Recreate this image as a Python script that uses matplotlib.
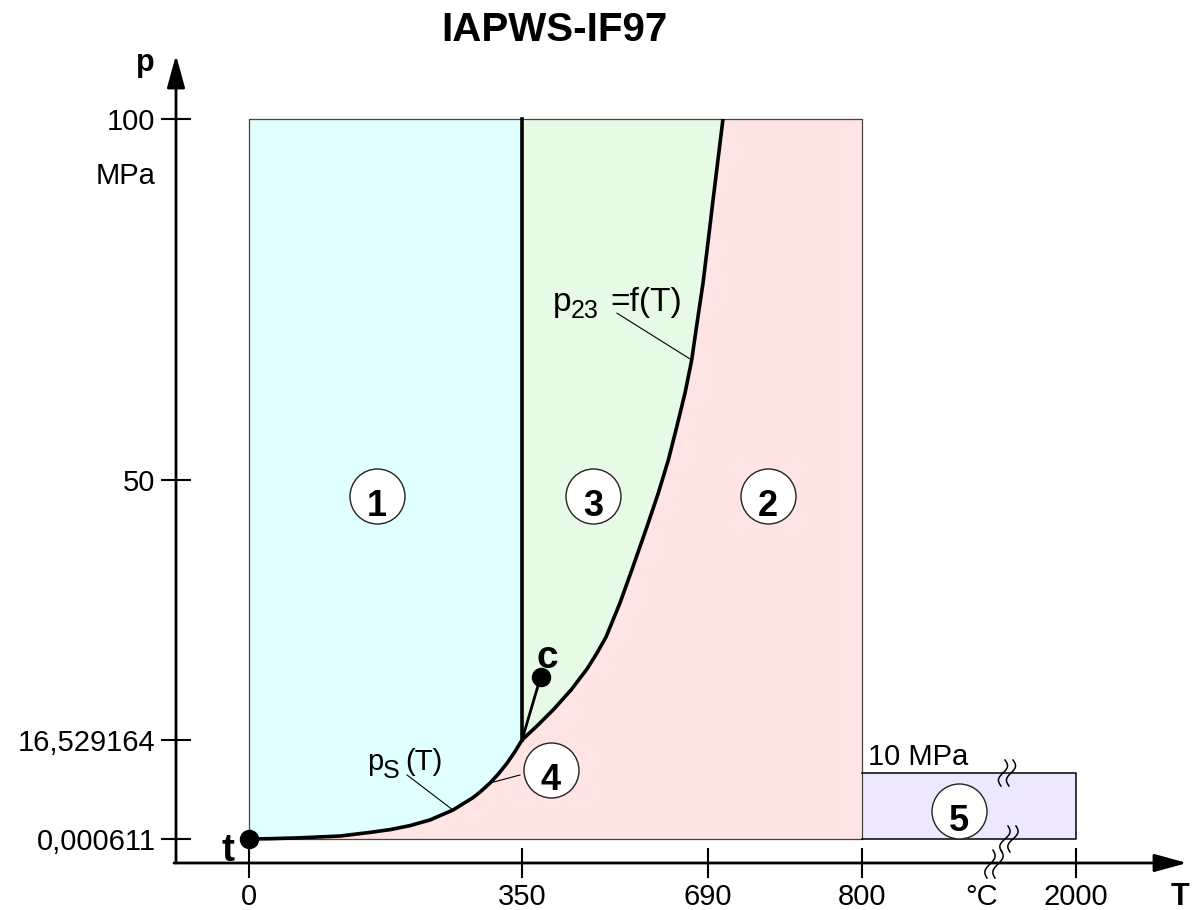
import numpy as np
import matplotlib
matplotlib.use('Agg')
import matplotlib.pyplot as plt
from matplotlib.transforms import IdentityTransform

plt.rcParams['font.family'] = ['Liberation Sans', 'DejaVu Sans']

# ---------------- data ----------------
T_ticks = [0, 350, 690, 800, 2000]
T_tick_labels = ['0', '350', '690', '800', '2000']
p_ticks = [0.000611, 16.529164, 50, 100]
p_tick_labels = ['0,000611', '16,529164', '50', '100']
p_min = 0.000611
p_max = 100.0
p_region5 = 10.0
T_region1_max = 350.0
T_region2_max = 800.0
T_region5_max = 2000.0

# saturation line p_s(T): triple point t ... 350 degC ... critical point c
ps_T = [0, 26.9, 65.4, 116.7, 155.1, 180.8, 206.4, 232.1, 261.5, 287.2, 296.2,
        309.0, 319.2, 330.8, 341.0, 350, 384.2]
ps_p = [0.000611, 0.05, 0.18, 0.45, 1.0, 1.42, 2.03, 2.89, 4.39, 6.27, 7.11,
        8.48, 9.79, 11.94, 14.23, 16.529164, 24.7]

# boundary line p23 = f(T)
b23_T = [350, 379.2, 408.5, 439.6, 468.8, 487.1, 503.6, 529.1, 552.0, 577.6, 599.2,
         617.5, 632.8, 648.0, 660.2, 670.8, 680.9, 690.2, 693.6, 697.1, 700.7]
b23_p = [16.529164, 18.46, 20.52, 22.97, 25.67, 27.73, 29.79, 34.17, 38.67, 43.82, 48.33,
         52.77, 57.34, 62.05, 66.62, 72.16, 77.28, 83.24, 88.78, 94.32, 100.0]

regions = ['1', '3', '2', '4', '5']
region_T = [164, 480, 733, 403, 1344]
region_p = [48.0, 48.0, 48.0, 10.6, 4.2]

# ---------------- schematic (broken) scales ----------------
W, H = 1196, 910
x_val = np.array([-1000, 0, 350, 690, 800, 2000, 10000], float)
x_pix = np.array([249 - 1000 * 0.78, 249, 522, 708, 862, 1076, 1076 + 8000 * 0.17833])
y_val = np.array([-1000, 0.000611, 10, 16.529164, 50, 100, 1000], float)
y_pix = np.array([71 - 1000 * 6.6, 71, 137, 170, 430, 791, 791 + 900 * 7.22])

def xf(v):
    return np.interp(np.asarray(v, float), x_val, x_pix)

def xi(v):
    return np.interp(np.asarray(v, float), x_pix, x_val)

def yf(v):
    return np.interp(np.asarray(v, float), y_val, y_pix)

def yi(v):
    return np.interp(np.asarray(v, float), y_pix, y_val)

fig = plt.figure(figsize=(W / 100, H / 100), dpi=100)
ax = fig.add_axes([0, 0, 1, 1])
ax.set_xscale('function', functions=(xf, xi))
ax.set_yscale('function', functions=(yf, yi))
ax.set_xlim(float(xi(0)), float(xi(W)))
ax.set_ylim(float(yi(0)), float(yi(H)))
ax.patch.set_alpha(0)

pink = '#FFE4E4'
cyan = '#E0FFFF'
green = '#E6FAE6'
lav = '#EEE8FF'

# region fills
ax.fill_between([0, T_region2_max], [p_min, p_min], [p_max, p_max], color=pink, lw=0, zorder=1)
k = ps_T.index(T_region1_max) + 1
ax.fill_between(ps_T[:k], ps_p[:k], p_max, color=cyan, lw=0, zorder=2)
ax.fill_betweenx(b23_p, T_region1_max, b23_T, color=green, lw=0, zorder=2)
ax.fill_between([T_region2_max, T_region5_max], [p_min, p_min], [p_region5, p_region5],
                color=lav, lw=0, zorder=1)

# thin outlines
ax.plot([0, T_region2_max, T_region2_max, 0, 0], [p_min, p_min, p_max, p_max, p_min],
        color='#444444', lw=0.9, zorder=3)
ax.plot([T_region2_max, T_region5_max, T_region5_max, T_region2_max],
        [p_region5, p_region5, p_min, p_min], color='black', lw=1.1, zorder=3)

# thick boundaries
ax.plot([T_region1_max, T_region1_max], [16.529164, p_max], color='black', lw=2.6, zorder=4)
ax.plot(b23_T, b23_p, color='black', lw=2.6, zorder=4, solid_capstyle='butt',
        solid_joinstyle='round')
ax.plot(ps_T[:k], ps_p[:k], color='black', lw=2.6, zorder=4, solid_joinstyle='round')
ax.plot(ps_T[k - 1:], ps_p[k - 1:], color='black', lw=2.0, zorder=4)

# triple and critical points
ax.plot([ps_T[0]], [ps_p[0]], 'o', color='black', ms=13, zorder=6)
ax.plot([ps_T[-1]], [ps_p[-1]], 'o', color='black', ms=13, zorder=6)
ax.text(-27, -3.3, 't', fontsize=28, fontweight='bold', ha='center', va='baseline', zorder=7)
ax.text(396.6, 25.8, 'c', fontsize=28, fontweight='bold', ha='center', va='baseline', zorder=7)

# region circles
ax.scatter(region_T, region_p, s=1568, facecolor='white', edgecolor='#222222', lw=1.0, zorder=6)
for lab, T, p in zip(regions, region_T, region_p):
    ax.annotate(lab, (T, p), xytext=(0, -14.5), textcoords='offset points',
                ha='center', va='baseline', fontsize=26, fontweight='bold', zorder=7)

# curve labels with leaders
def label_sub(T, p, base, sub, rest, fs, fs_sub, dx_sub, dy_sub, dx_rest):
    kw = dict(xycoords='data', textcoords='offset points', ha='left', va='baseline', zorder=7)
    ax.annotate(base, (T, p), xytext=(0, 0), fontsize=fs, **kw)
    ax.annotate(sub, (T, p), xytext=(dx_sub, dy_sub), fontsize=fs_sub, **kw)
    ax.annotate(rest, (T, p), xytext=(dx_rest, 0), fontsize=fs, **kw)

label_sub(151.3, 10.6, 'p', 'S', '(T)', 21, 18, 11.5, -5.5, 27.5)
ax.plot([202.6, 261.5], [9.7, 4.39], color='black', lw=0.8, zorder=5)
ax.plot([309.0, 347.4], [8.48, 9.7], color='black', lw=0.8, zorder=5)
label_sub(406.7, 73.4, 'p', '23', '=f(T)', 24, 18, 12.5, -5.0, 41.0)
ax.plot([523.7, 660.2], [73.1, 66.62], color='black', lw=0.8, zorder=5)
ax.text(833.6, 11.6, '10 MPa', fontsize=21, ha='left', va='baseline', zorder=7)

# axes
for s in ax.spines.values():
    s.set_visible(False)
ax.spines['left'].set_position(('axes', 176 / W))
ax.spines['bottom'].set_position(('axes', 47 / H))
ax.set_xticks(T_ticks)
ax.set_xticklabels(T_tick_labels)
ax.set_yticks(p_ticks)
ax.set_yticklabels(p_tick_labels)
ax.minorticks_off()
ax.tick_params(axis='both', direction='inout', length=21.6, width=1.5, labelsize=21, color='black')
ax.tick_params(axis='x', pad=3.5)
ax.tick_params(axis='y', pad=4)

arrow = dict(arrowstyle='-|>,head_length=2.0,head_width=0.55', lw=2.0, color='black',
             shrinkA=0, shrinkB=0)
ax.annotate('', xy=(176 / W, 1 - 55 / H), xytext=(176 / W, 47 / H),
            xycoords='axes fraction', arrowprops=arrow)
ax.annotate('', xy=(1187 / W, 47 / H), xytext=(174 / W, 47 / H),
            xycoords='axes fraction', arrowprops=arrow)

ax.text(-133.3, 106.6, 'p', fontsize=22, fontweight='bold', ha='center', va='baseline')
ax.text(-120.5, 92.1, 'MPa', fontsize=21, ha='right', va='center')
ax.text(2583, -10.0, 'T', fontsize=22, fontweight='bold', ha='center', va='baseline')
ax.text(1473, -10.0, '°C', fontsize=21, ha='center', va='baseline')

fig.text(554 / W, 1 - 30 / H, 'IAPWS-IF97', fontsize=29, fontweight='bold', ha='center', va='center')

# break marks
def break_mark(T, p, height, tilt):
    x0, y0 = ax.transData.transform((T, p))
    s = np.linspace(-0.5, 0.5, 40)
    for off in (-4, 4):
        xs = x0 + off + tilt * s + 3.5 * np.sin(2 * np.pi * s)
        ys = y0 + height * s
        ax.plot(xs, ys, transform=IdentityTransform(), color='black', lw=1.1, zorder=8)

break_mark(1613, p_region5, 26, 4)
break_mark(1624, p_min, 26, 6)
break_mark(1540, -3.8, 28, 6)

fig.savefig('out.png', dpi=100)
